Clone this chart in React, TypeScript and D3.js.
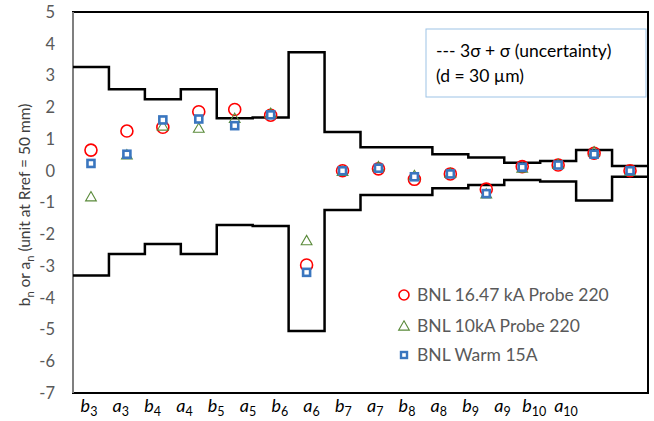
import React from 'react';
import * as d3 from 'd3';

// categories: [letter, order]
const categories = [
	['b', '3'], ['a', '3'], ['b', '4'], ['a', '4'], ['b', '5'], ['a', '5'],
	['b', '6'], ['a', '6'], ['b', '7'], ['a', '7'], ['b', '8'], ['a', '8'],
	['b', '9'], ['a', '9'], ['b', '10'], ['a', '10']
];
const keys = categories.map(c => c[0] + c[1]);

const probe1647 = [0.65, 1.25, 1.37, 1.86, 1.93, 1.75, -2.97, 0.0, 0.06, -0.27, -0.1, -0.58, 0.13, 0.18, 0.55, 0.0];
const probe10 = [-0.82, 0.5, 1.41, 1.34, 1.65, 1.81, -2.2, -0.02, 0.13, -0.15, -0.08, -0.73, 0.08, 0.2, 0.6, -0.02];
const warm15 = [0.23, 0.52, 1.6, 1.63, 1.42, 1.76, -3.2, 0.0, 0.08, -0.19, -0.1, -0.72, 0.11, 0.18, 0.52, 0.0];

const upperBound = [3.27, 2.57, 2.25, 2.57, 1.65, 1.68, 3.73, 1.22, 0.74, 0.74, 0.52, 0.42, 0.25, 0.31, 0.65, 0.15];
const lowerBound = [-3.3, -2.62, -2.31, -2.62, -1.71, -1.74, -5.05, -1.24, -0.76, -0.76, -0.55, -0.45, -0.29, -0.34, -0.94, -0.19];

const yTicks = [5, 4, 3, 2, 1, 0, -1, -2, -3, -4, -5, -6, -7];

const W = 654;
const H = 421;
const left = 73;
const right = 648;
const top = 12;
const bottom = 393;
const textColor = '#595959';
const font = 'Lato, Liberation Sans, sans-serif';

const App = () => {
	const x = d3.scaleBand().domain(keys).range([left, right]).padding(0);
	const y = d3.scaleLinear().domain([-7, 5]).range([bottom, top]);
	// labels row sits a bit apart from the plotted columns
	const xLabel = d3.scalePoint().domain(keys).range([89, 566]);

	const stepLine = d3
		.line<[number, number]>()
		.x(d => d[0])
		.y(d => y(d[1]))
		.curve(d3.curveStepAfter);

	const stepPts = (vals: number[]): [number, number][] => {
		const pts: [number, number][] = keys.map((k, i) => [x(k)!, vals[i]]);
		pts.push([right, vals[vals.length - 1]]);
		return pts;
	};

	const cx = (i: number) => x(keys[i])! + x.bandwidth() / 2;
	const tri = d3.symbol().type(d3.symbolTriangle).size(50);

	return (
		<svg width={W} height={H} style={{ position: 'absolute', left: 0, top: 0, background: '#fff' }}>
			<rect x={left} y={top} width={right - left} height={bottom - top} fill="none" stroke="#000" strokeWidth={2} />
			<line x1={left} x2={left} y1={top} y2={bottom} stroke="#7f7f7f" strokeWidth={2} />

			{yTicks.map(t => (
				<text key={t} x={55} y={y(t)} dy="0.35em" textAnchor="end" fontSize={16.5} fill={textColor} fontFamily={font}>
					{t}
				</text>
			))}

			<text transform={`translate(30, 205) rotate(-90)`} textAnchor="middle" fontSize={15.5} fill="#404040" fontFamily={font}>
				b<tspan fontSize={11} dy={4}>n</tspan>
				<tspan dy={-4}> or a</tspan>
				<tspan fontSize={11} dy={4}>n</tspan>
				<tspan dy={-4}> (unit at Rref = 50 mm)</tspan>
			</text>

			{categories.map((c, i) => (
				<text key={keys[i]} x={xLabel(keys[i])} y={412} textAnchor="middle" fontSize={18} fill="#000" fontFamily={font} fontStyle="italic">
					{c[0]}
					<tspan fontSize={12.5} dy={4} fontStyle="normal">{c[1]}</tspan>
				</text>
			))}

			<path d={stepLine(stepPts(upperBound))!} fill="none" stroke="#000" strokeWidth={2.5} />
			<path d={stepLine(stepPts(lowerBound))!} fill="none" stroke="#000" strokeWidth={2.5} />

			{probe1647.map((v, i) => (
				<circle key={'r' + i} cx={cx(i)} cy={y(v)} r={6} fill="none" stroke="#ff0000" strokeWidth={1.6} />
			))}
			{probe10.map((v, i) => (
				<path key={'g' + i} d={tri()!} transform={`translate(${cx(i)},${y(v) + 1})`} fill="none" stroke="#5a8a3a" strokeWidth={1.1} />
			))}
			{warm15.map((v, i) => (
				<rect key={'b' + i} x={cx(i) - 3.5} y={y(v) - 3.5} width={7} height={7} fill="#fff" stroke="#3a76bf" strokeWidth={2.6} />
			))}

			<rect x={426} y={29} width={220} height={68} fill="#fff" stroke="#9dc3e6" strokeWidth={1} />
			<text x={436} y={57} fontSize={17.5} fill="#000" fontFamily={font}>--- 3σ + σ (uncertainty)</text>
			<text x={436} y={82} fontSize={17.5} fill="#000" fontFamily={font}>(d = 30 µm)</text>

			<circle cx={404} cy={295} r={5} fill="none" stroke="#ff0000" strokeWidth={1.6} />
			<text x={417} y={295} dy="0.35em" fontSize={17.5} fill={textColor} fontFamily={font}>BNL 16.47 kA Probe 220</text>
			<path d={tri()!} transform="translate(404,327)" fill="none" stroke="#5a8a3a" strokeWidth={1.1} />
			<text x={417} y={326} dy="0.35em" fontSize={17.5} fill={textColor} fontFamily={font}>BNL 10kA Probe 220</text>
			<rect x={401} y={352} width={6} height={6} fill="#fff" stroke="#3a76bf" strokeWidth={2.4} />
			<text x={417} y={355} dy="0.35em" fontSize={17.5} fill={textColor} fontFamily={font}>BNL Warm 15A</text>
		</svg>
	);
};

export default App;
